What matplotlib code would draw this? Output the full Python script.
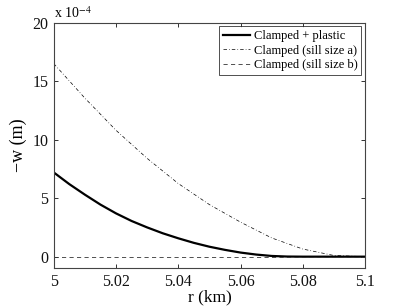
import matplotlib.pyplot as plt
import numpy as np

# radial position (km)
r_plastic = [5.000, 5.005, 5.010, 5.015, 5.020, 5.025, 5.030, 5.035, 5.040, 5.045,
             5.050, 5.055, 5.060, 5.065, 5.070, 5.075, 5.080, 5.090, 5.100]
# -w in units of 1e-4 m
w_plastic = [7.2, 6.2, 5.3, 4.45, 3.7, 3.05, 2.5, 2.0, 1.57, 1.18,
             0.85, 0.58, 0.35, 0.18, 0.06, 0.01, 0.0, 0.0, 0.0]

r_sill = [5.00, 5.01, 5.02, 5.03, 5.04, 5.05, 5.06, 5.07, 5.08, 5.09, 5.10]
w_sill_a = [16.5, 13.55, 10.8, 8.4, 6.25, 4.45, 2.95, 1.6, 0.65, 0.1, 0.0]
w_sill_b = [0.0, 0.0, 0.0, 0.0, 0.0, 0.0, 0.0, 0.0, 0.0, 0.0, 0.0]

labels = ["Clamped + plastic", "Clamped (sill size a)", "Clamped (sill size b)"]

plt.rcParams['font.family'] = ['Liberation Serif', 'DejaVu Serif']
plt.rcParams['mathtext.fontset'] = 'stix'

fig = plt.figure(figsize=(4.07, 3.06), dpi=100)
ax = fig.add_axes([0.132, 0.123, 0.765, 0.803])

ax.plot(r_plastic, w_plastic, color='black', linewidth=1.6, label=labels[0])
ax.plot(r_sill, w_sill_a, color='black', linewidth=0.5, linestyle=(0, (5, 3, 1, 3)),
        label=labels[1])
ax.plot(r_sill, w_sill_b, color='#333333', linewidth=0.6, linestyle=(0, (5, 4)),
        label=labels[2])

ax.set_xlim(5.0, 5.1)
ax.set_ylim(-1, 20)
ax.set_xticks(np.arange(5.0, 5.1001, 0.02))
ax.set_xticklabels(["5", "5.02", "5.04", "5.06", "5.08", "5.1"])
ax.set_yticks([0, 5, 10, 15, 20])

ax.tick_params(direction='in', top=True, right=True, length=3, width=0.6,
               labelsize=11.5, colors='#111111')
ax.tick_params(axis='x', pad=4)
ax.tick_params(axis='y', pad=4)
for s in ax.spines.values():
    s.set_linewidth(0.8)
    s.set_color('#444444')

ax.set_xlabel("r (km)", fontsize=12.5)
ax.xaxis.set_label_coords(0.5, -0.086)
ax.set_ylabel("\u2212w (m)", fontsize=13, labelpad=4)
ax.text(0.0, 1.005, r"x 10$^{-4}$", transform=ax.transAxes, fontsize=10,
        ha='left', va='bottom')

leg = ax.legend(loc='upper right', fontsize=9, frameon=True, fancybox=False,
                edgecolor='black', borderaxespad=0.3, handlelength=2.2,
                handletextpad=0.3, borderpad=0.3, labelspacing=0.2)
leg.get_frame().set_linewidth(0.6)

plt.savefig("out.png", dpi=100)
